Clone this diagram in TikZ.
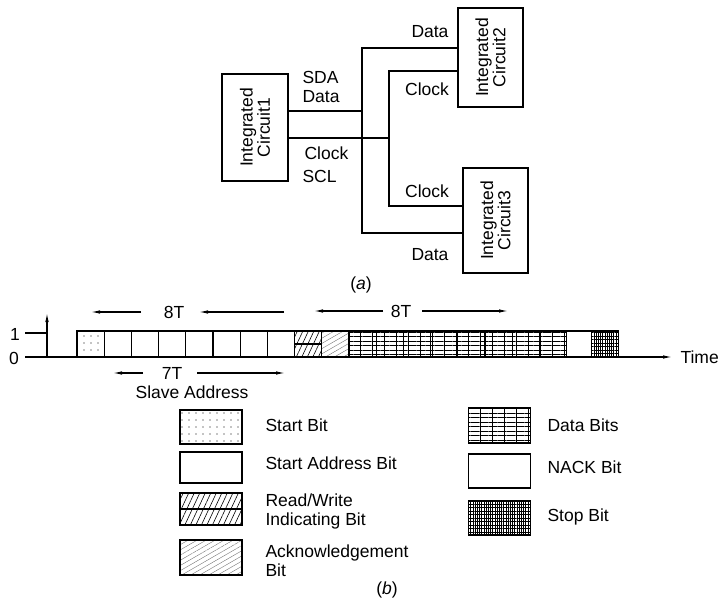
\documentclass[tikz,border=0pt]{standalone}
\usepackage{fontspec}
\setmainfont{Liberation Sans}
\usetikzlibrary{arrows.meta,patterns.meta}

\tikzstyle{ic box}=[draw, inner sep=0pt]
\tikzstyle{ic text}=[rotate=90, align=center, inner sep=0pt, font=\fontsize{17.5}{16}\selectfont]
\tikzstyle{dim arrow}=[-{Latex[length=9pt,width=3.5pt]}]
\tikzstyle{bit}=[draw, inner sep=0pt, minimum width=27.2pt, minimum height=26pt]
\tikzstyle{key box}=[draw, inner sep=0pt, minimum width=62pt, minimum height=32pt]
\tikzstyle{key text}=[anchor=west, align=left, inner sep=0pt]
\tikzstyle{start bit}=[pattern={Dots[distance=7pt,radius=0.6pt]}]
\tikzstyle{rw bit}=[pattern={Lines[angle=65,distance=5pt,line width=0.6pt]}]
\tikzstyle{ack bit}=[pattern={Lines[angle=30,distance=4.5pt,line width=0.4pt]}, pattern color=black!55]
\tikzstyle{data bit}=[pattern={Lines[angle=0,distance=4.5pt,line width=0.5pt]}, postaction={pattern={Lines[angle=90,distance=12pt,line width=0.5pt]}}]
\tikzstyle{stop bit}=[pattern={Lines[angle=90,distance=2.2pt,line width=0.8pt]}, postaction={pattern={Lines[angle=0,distance=3.5pt,line width=0.6pt]}}]

\begin{document}
\begin{tikzpicture}[x=1pt, y=-1pt, line width=1.1pt, font=\fontsize{17.5}{19}\selectfont, every node/.append style={inner sep=0pt}]
	\useasboundingbox (0,0) rectangle (724,602);

	\node[ic box, minimum width=66pt, minimum height=107pt] (ic1) at (255,127.5) {};
	\node[ic box, minimum width=65pt, minimum height=99pt] (ic2) at (490.5,57.5) {};
	\node[ic box, minimum width=65pt, minimum height=105pt] (ic3) at (495.5,220.5) {};
	\node[ic text] (ic1 name) at (ic1.center) {Integrated\\Circuit1};
	\node[ic text] (ic2 name) at (ic2.center) {Integrated\\Circuit2};
	\node[ic text] (ic3 name) at (ic3.center) {Integrated\\Circuit3};

	\coordinate (sda) at (362,111);
	\coordinate (sda top) at (362,48);
	\coordinate (sda bot) at (362,233);
	\coordinate (scl) at (389,138);
	\coordinate (scl top) at (389,71);
	\coordinate (scl bot) at (389,206);

	\draw (ic1.east |- sda) -- (sda);
	\draw (ic2.west |- sda top) -- (sda top) -- (sda bot) -- (ic3.west |- sda bot);
	\draw (ic1.east |- scl) -- (scl);
	\draw (ic2.west |- scl top) -- (scl top) -- (scl bot) -- (ic3.west |- scl bot);

	\node[anchor=west] (sda name) at (302,77) {SDA};
	\node[anchor=west] (sda data) at (302,97) {Data};
	\node[anchor=west] (scl clock) at (304,153) {Clock};
	\node[anchor=west] (scl name) at (302,176) {SCL};
	\node (ic2 data) at (430,32) {Data};
	\node (ic2 clock) at (427,89) {Clock};
	\node (ic3 clock) at (427,191) {Clock};
	\node (ic3 data) at (430,255) {Data};
	\node (cap a) at (361,285) {(\textit{a})};

	\coordinate (origin) at (47,357);
	\coordinate (y top) at (47,313);
	\coordinate (one) at (25,333);
	\coordinate (zero) at (25,357);
	\coordinate (t end) at (672,357);
	\node (one label) at (15,334) {1};
	\node (zero label) at (14,358) {0};
	\node[anchor=west] (time label) at (680,357) {Time};
	\draw[dim arrow] (origin) -- (y top);
	\draw (one) -- (one -| origin);
	\draw[dim arrow] (zero) -- (t end);

	\node[bit, start bit] (b0) at (90.6,344) {};
	\foreach \i in {1,...,7}
		\node[bit] (b\i) at ({77+27.2*\i+13.6},344) {};
	\node[bit, rw bit] (b8) at ({77+27.2*8+13.6},344) {};
	\draw (b8.west) -- (b8.east);
	\node[bit, ack bit] (b9) at ({77+27.2*9+13.6},344) {};
	\foreach \i in {10,...,17}
		\node[bit, data bit] (b\i) at ({77+27.2*\i+13.6},344) {};
	\node[bit, minimum width=25pt] (b18) at (579.1,344) {};
	\node[bit, stop bit] (b19) at (605.1,344) {};

	\node (span8a) at (174,312) {8T};
	\coordinate (span8a l) at (91,312);
	\coordinate (span8a m) at (141,312);
	\coordinate (span8a n) at (199,312);
	\coordinate (span8a r) at (284,312);
	\draw[dim arrow] (span8a m) -- (span8a l);
	\draw[dim arrow] (span8a r) -- (span8a n);

	\node (span8b) at (401,311) {8T};
	\coordinate (span8b l) at (314,311);
	\coordinate (span8b m) at (383,311);
	\coordinate (span8b n) at (422,311);
	\coordinate (span8b r) at (508,311);
	\draw[dim arrow] (span8b m) -- (span8b l);
	\draw[dim arrow] (span8b n) -- (span8b r);

	\node (span7) at (172,373) {7T};
	\coordinate (span7 l) at (113,373);
	\coordinate (span7 m) at (143,373);
	\coordinate (span7 n) at (197,373);
	\coordinate (span7 r) at (285,373);
	\draw[dim arrow] (span7 m) -- (span7 l);
	\draw[dim arrow] (span7 n) -- (span7 r);
	\node (slave) at (192,392) {Slave Address};

	\node[key box, minimum height=34pt, start bit] (key start) at (211,427) {};
	\node[key box, minimum height=31pt] (key addr) at (211,467.5) {};
	\node[key box, rw bit] (key rw) at (211,509) {};
	\draw (key rw.west) -- (key rw.east);
	\node[key box, minimum height=35pt, ack bit] (key ack) at (211,557.5) {};
	\node[key text] (key start text) at (265,425) {Start Bit};
	\node[key text] (key addr text) at (265,463) {Start Address Bit};
	\node[key text] (key rw text) at (265,511) {Read/Write\\Indicating Bit};
	\node[key text] (key ack text) at (265,561) {Acknowledgement\\Bit};

	\node[key box, minimum height=35pt, data bit] (key data) at (499.5,425.5) {};
	\node[key box, minimum height=34pt] (key nack) at (499.5,471) {};
	\node[key box, minimum height=34pt, stop bit] (key stop) at (499.5,518) {};
	\node[key text] (key data text) at (547,425) {Data Bits};
	\node[key text] (key nack text) at (547,467) {NACK Bit};
	\node[key text] (key stop text) at (547,517) {Stop Bit};

	\node (cap b) at (387,590) {(\textit{b})};
\end{tikzpicture}
\end{document}
